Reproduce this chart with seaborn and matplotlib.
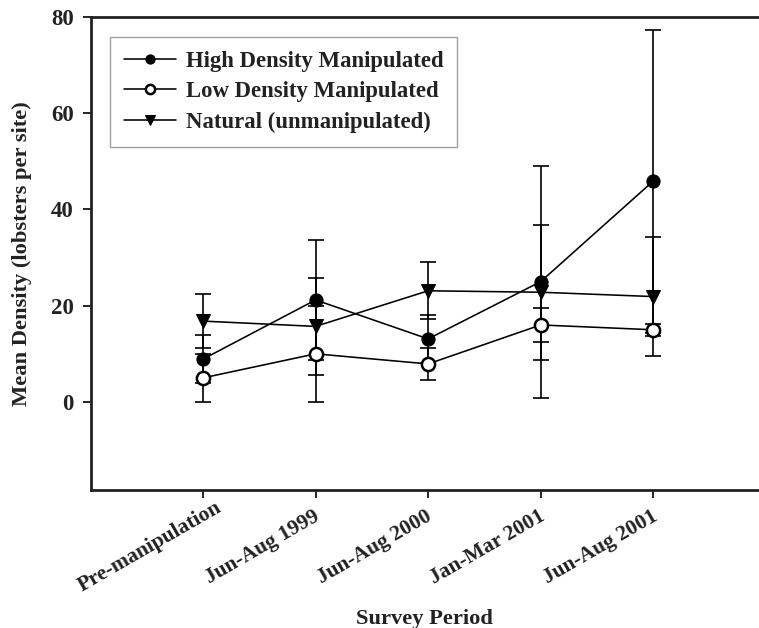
import numpy as np
import pandas as pd
import matplotlib
matplotlib.use("Agg")
import matplotlib.pyplot as plt
import matplotlib.transforms as mtransforms
import seaborn as sns

periods = ["Pre-manipulation", "Jun-Aug 1999", "Jun-Aug 2000", "Jan-Mar 2001", "Jun-Aug 2001"]
high_mean = [8.9, 21.2, 13.1, 25.0, 45.9]
high_err = [5.0, 12.4, 5.0, 24.1, 31.5]
low_mean = [5.0, 10.0, 7.9, 16.0, 15.0]
low_err = [5.0, 10.0, 3.4, 3.6, 1.2]
nat_mean = [16.8, 15.7, 23.1, 22.8, 21.9]
nat_err = [5.6, 10.0, 5.9, 14.0, 12.3]
y_ticks = [0, 20, 40, 60, 80]

sns.set_theme(style="white")
plt.rcParams["font.family"] = ["Liberation Serif", "DejaVu Serif"]
plt.rcParams["font.weight"] = "bold"

fig = plt.figure(figsize=(7.59, 6.28), dpi=100)
ax = fig.add_axes([90.5 / 759, 1 - 490 / 628, 1 - 90.5 / 759, (490 - 17) / 628])

x = np.arange(len(periods))
series = [
    ("High Density Manipulated", high_mean, high_err, dict(marker="o", mfc="black", mec="black")),
    ("Low Density Manipulated", low_mean, low_err, dict(marker="o", mfc="white", mec="black", mew=1.8)),
    ("Natural (unmanipulated)", nat_mean, nat_err, dict(marker="v", mfc="black", mec="black")),
]

for name, m, e, st in series:
    ax.errorbar(x, m, yerr=e, fmt="none", ecolor="black", elinewidth=1.2,
                capsize=5.5, capthick=1.2, zorder=2)
    df = pd.DataFrame({"x": x, "y": m})
    sns.lineplot(data=df, x="x", y="y", ax=ax, color="black", lw=1.15,
                 markersize=9.5, label=name, zorder=3, **st)

ax.set_xlim(-1.0, 4.94)
ax.set_ylim(-18.3, 80)
ax.set_yticks(y_ticks)
ax.set_yticklabels([str(v) for v in y_ticks], fontsize=16.5, fontweight="bold")
ax.set_xticks(x)
ax.set_xticklabels([])

lab_tr = ax.get_xaxis_transform() + mtransforms.ScaledTranslation(-0.53, -0.57, fig.dpi_scale_trans)
for xi, name in zip(x, periods):
    ax.text(xi, 0, name, transform=lab_tr, rotation=30, ha="center", va="center",
            rotation_mode="anchor", fontsize=15.5, fontweight="bold", color="#222222")

ax.tick_params(axis="both", which="both", direction="out", length=6, width=1.2,
               color="black", bottom=True, left=True, top=False, right=False, pad=6,
               labelcolor="#222222")
for side in ["left", "bottom", "top"]:
    ax.spines[side].set_color("#222222")
    ax.spines[side].set_linewidth(2.0)
ax.spines["right"].set_visible(False)

ax.set_xlabel("Survey Period", fontsize=16.2, fontweight="bold", color="#222222")
ax.set_ylabel("Mean Density (lobsters per site)", fontsize=16.2, fontweight="bold", color="#222222")
ax.xaxis.set_label_coords(0.5, -0.252)
ax.yaxis.set_label_coords(-0.087, 0.5)

leg = ax.legend(loc="upper left", bbox_to_anchor=(19.5 / 668.5, 1 - 20 / 473),
                prop={"size": 16.4, "weight": "bold"}, frameon=True, fancybox=False,
                edgecolor="#888888", handlelength=2.3, handletextpad=0.42,
                labelspacing=0.42, borderpad=0.6, markerscale=0.7, borderaxespad=0)
leg.get_frame().set_linewidth(1.0)
for t in leg.get_texts():
    t.set_color("#222222")

fig.savefig("out.png", dpi=100)
